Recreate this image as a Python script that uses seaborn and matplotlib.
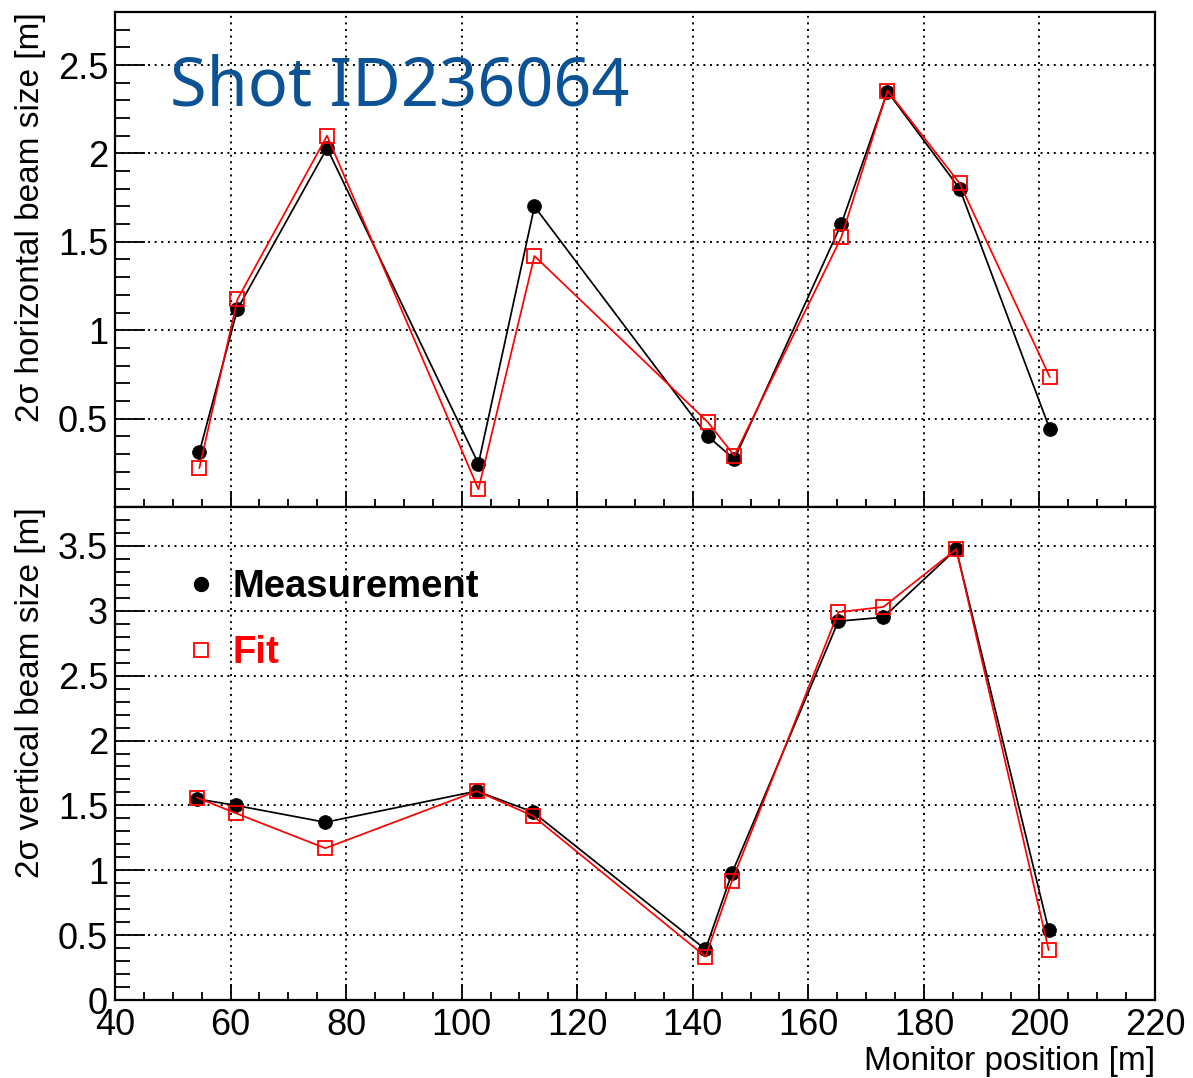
import numpy as np
import pandas as pd
import matplotlib
matplotlib.use("Agg")
import matplotlib.pyplot as plt
from matplotlib.lines import Line2D
from matplotlib.ticker import MultipleLocator, FixedLocator
import seaborn as sns

# ---------------- data ----------------
x_h = [54.6, 61.2, 76.7, 102.9, 112.6, 142.6, 147.2, 165.7, 173.7, 186.2, 201.8]
meas_h = [0.31, 1.12, 2.03, 0.245, 1.70, 0.40, 0.27, 1.60, 2.35, 1.80, 0.44]
fit_h = [0.22, 1.175, 2.10, 0.10, 1.42, 0.48, 0.29, 1.525, 2.355, 1.83, 0.735]

x_v = [54.2, 60.9, 76.4, 102.6, 112.3, 142.2, 146.8, 165.2, 173.0, 185.6, 201.6]
meas_v = [1.55, 1.50, 1.37, 1.61, 1.45, 0.39, 0.98, 2.92, 2.95, 3.475, 0.54]
fit_v = [1.56, 1.44, 1.17, 1.61, 1.42, 0.335, 0.92, 2.99, 3.03, 3.475, 0.385]

x_ticks = [40, 60, 80, 100, 120, 140, 160, 180, 200, 220]
yh_ticks = [0.5, 1, 1.5, 2, 2.5]
yv_ticks = [0, 0.5, 1, 1.5, 2, 2.5, 3, 3.5]

title_text = "Shot ID236064"
ylabel_h = "2σ horizontal beam size [m]"
ylabel_v = "2σ vertical beam size [m]"
xlabel = "Monitor position [m]"
legend_labels = ["Measurement", "Fit"]

df_h = pd.DataFrame({"x": x_h, "meas": meas_h, "fit": fit_h})
df_v = pd.DataFrame({"x": x_v, "meas": meas_v, "fit": fit_v})

# ---------------- style ----------------
sns.set_style("white")
plt.rcParams["font.family"] = ["Liberation Sans", "DejaVu Sans"]
plt.rcParams["axes.linewidth"] = 1.6
plt.rcParams["axes.labelcolor"] = "black"
plt.rcParams["text.color"] = "black"
plt.rcParams["xtick.color"] = "black"
plt.rcParams["ytick.color"] = "black"

W, H = 1193, 1078
fig = plt.figure(figsize=(W / 100, H / 100), dpi=100)
L, R = 115, 1155
ax1 = fig.add_axes([L / W, 1 - 507 / H, (R - L) / W, 495 / H])
ax2 = fig.add_axes([L / W, 1 - 1000 / H, (R - L) / W, 493 / H])

def fmt(v):
    return ("%g" % v)

for ax, df, yt, ylim in ((ax1, df_h, yh_ticks, (0, 2.8)), (ax2, df_v, yv_ticks, (0, 3.8))):
    sns.lineplot(data=df, x="x", y="meas", ax=ax, color="black", linewidth=1.25,
                 marker="o", markersize=10, markeredgecolor="black",
                 markerfacecolor="black", markeredgewidth=0.5, sort=False, zorder=3)
    sns.lineplot(data=df, x="x", y="fit", ax=ax, color="red", linewidth=1.25,
                 marker="s", markersize=9.5, markeredgecolor="red",
                 markerfacecolor="none", markeredgewidth=1.3, sort=False, zorder=4)
    ax.set_xlim(40, 220)
    ax.set_ylim(*ylim)
    ax.xaxis.set_major_locator(FixedLocator(x_ticks))
    ax.xaxis.set_minor_locator(MultipleLocator(5))
    ax.yaxis.set_major_locator(FixedLocator(yt))
    ax.yaxis.set_minor_locator(MultipleLocator(0.1))
    ax.set_yticklabels([fmt(v) for v in yt])
    ax.grid(True, which="major", color="black", linestyle=(0, (1, 2.4)), linewidth=1.4)
    ax.grid(False, which="minor")
    ax.tick_params(axis="x", which="major", direction="in", length=11.5, width=1.3,
                   bottom=True, top=False, labelsize=26, pad=6, colors="black")
    ax.tick_params(axis="x", which="minor", direction="in", length=5.8, width=1.3,
                   bottom=True, top=False)
    ax.tick_params(axis="y", which="major", direction="in", length=21.5, width=1.3,
                   left=True, right=False, labelsize=26, pad=5, colors="black")
    ax.tick_params(axis="y", which="minor", direction="in", length=10.8, width=1.3,
                   left=True, right=False)
    for sp in ax.spines.values():
        sp.set_color("black")
        sp.set_linewidth(1.6)

ax1.set_xticklabels([])
ax2.set_xticklabels([fmt(v) for v in x_ticks])
ax1.set_xlabel("")
ax1.set_ylabel(ylabel_h, loc="top", fontsize=24, color="black")
ax1.yaxis.set_label_coords(-0.066, 1.0)
ax2.set_ylabel(ylabel_v, loc="top", fontsize=24, color="black")
ax2.yaxis.set_label_coords(-0.066, 1.0)
ax2.set_xlabel(xlabel, loc="right", fontsize=24, color="black")
ax2.xaxis.set_label_coords(1.0, -0.093)

ax1.text(0.053, 0.812, title_text, transform=ax1.transAxes, fontsize=48,
         color="#0b5394", family=["Noto Sans", "DejaVu Sans"], va="baseline", ha="left")

handles = [
    Line2D([], [], linestyle="none", marker="o", markersize=10, color="black",
           markeredgecolor="black"),
    Line2D([], [], linestyle="none", marker="s", markersize=9.5, markerfacecolor="none",
           markeredgecolor="red", markeredgewidth=1.3),
]
leg = ax2.legend(handles, legend_labels, loc="upper left", bbox_to_anchor=(0.068, 0.874),
                 frameon=False, borderpad=0, borderaxespad=0, handlelength=0.8,
                 handletextpad=0.42, labelspacing=0.79,
                 prop={"weight": "bold", "size": 27.5})
for t, c in zip(leg.get_texts(), ["black", "red"]):
    t.set_color(c)

fig.savefig("out.png", dpi=100, facecolor="white")
